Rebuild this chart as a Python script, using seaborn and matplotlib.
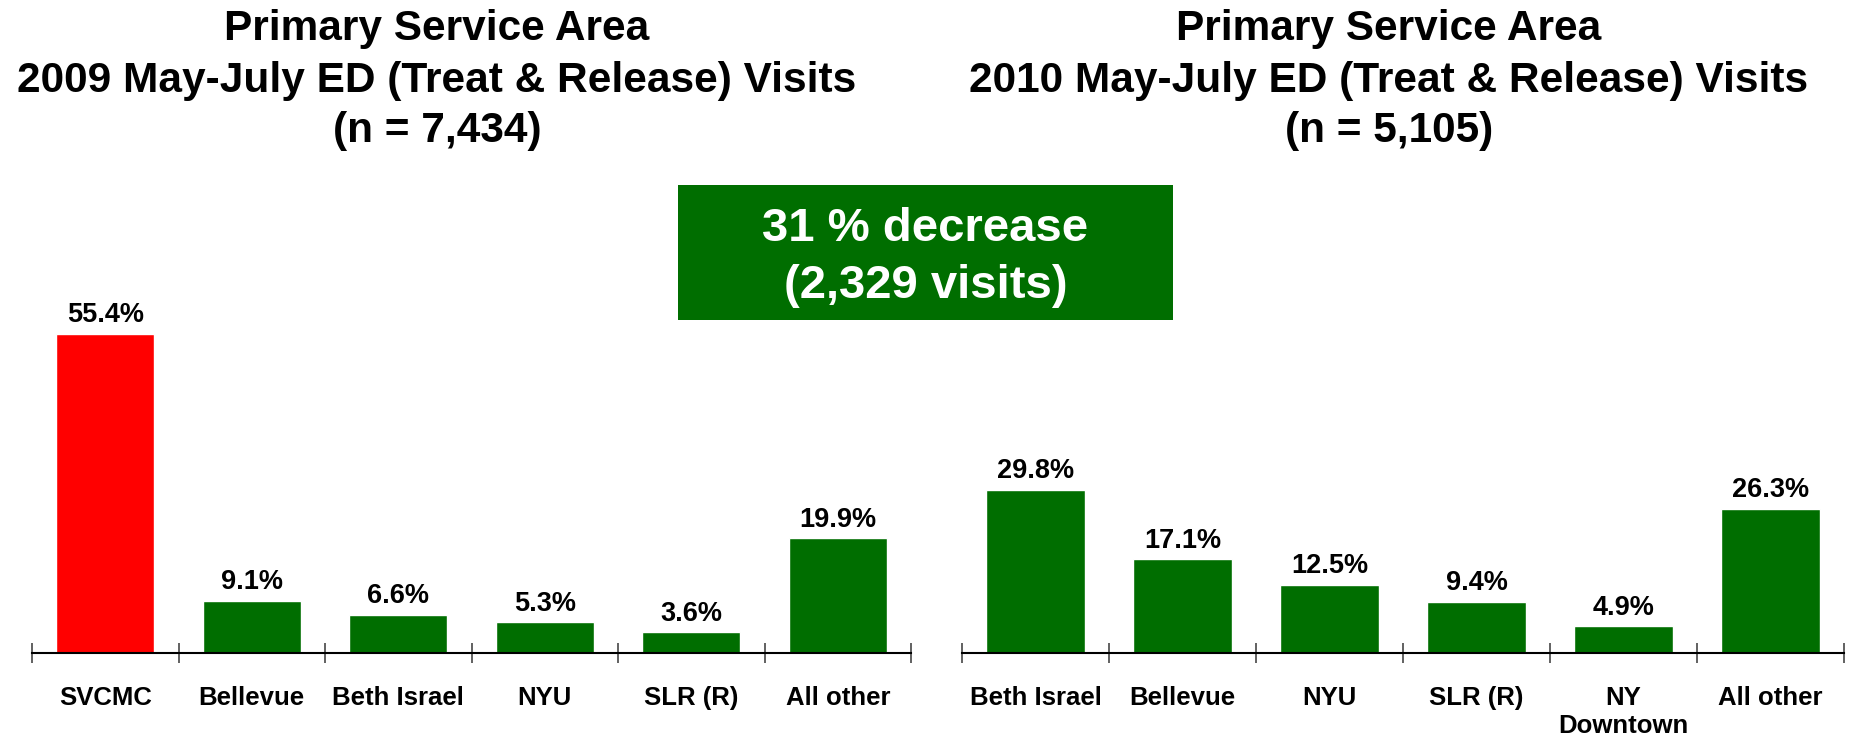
import matplotlib
matplotlib.use("Agg")
import matplotlib.pyplot as plt
import seaborn as sns
import pandas as pd
from matplotlib.patches import Rectangle
from matplotlib.ticker import FixedLocator

# ---------------- data ----------------
cats_2009 = ["SVCMC", "Bellevue", "Beth Israel", "NYU", "SLR (R)", "All other"]
vals_2009 = [55.4, 9.1, 6.6, 5.3, 3.6, 19.9]
cats_2010 = ["Beth Israel", "Bellevue", "NYU", "SLR (R)", "NY\nDowntown", "All other"]
vals_2010 = [29.8, 17.1, 12.5, 9.4, 4.9, 26.3]

title_2009 = ["Primary Service Area",
              "2009 May-July ED (Treat & Release) Visits",
              "(n = 7,434)"]
title_2010 = ["Primary Service Area",
              "2010 May-July ED (Treat & Release) Visits",
              "(n = 5,105)"]
box_lines = ["31 % decrease", "(2,329 visits)"]

GREEN = "#006E00"
RED = "#FF0000"
colors_2009 = [RED] + [GREEN] * 5
colors_2010 = [GREEN] * 6

sns.set_style("white")
plt.rcParams["font.family"] = ["Liberation Sans", "DejaVu Sans"]
plt.rcParams["font.weight"] = "bold"

W, H = 1852, 737
fig = plt.figure(figsize=(W / 100, H / 100), dpi=100)


def fx(px):
    return px / W


def fy(py):
    return 1 - py / H


def draw_panel(rect, cats, vals, colors, ymax):
    ax = fig.add_axes(rect)
    df = pd.DataFrame({"cat": cats, "val": vals})
    sns.barplot(data=df, x="cat", y="val", hue="cat", palette=colors,
                order=cats, hue_order=cats, legend=False, width=0.67,
                saturation=1, ax=ax)
    ax.set_xlim(-0.5, len(cats) - 0.5)
    ax.set_ylim(0, ymax)
    for s in ["top", "right", "left"]:
        ax.spines[s].set_visible(False)
    ax.spines["bottom"].set_color("black")
    ax.spines["bottom"].set_linewidth(1.5)
    ax.set_yticks([])
    ax.set_xlabel("")
    ax.set_ylabel("")
    ax.set_xticks(range(len(cats)))
    ax.set_xticklabels(cats, fontsize=18.5, fontweight="bold", color="black")
    for t in ax.get_xticklabels():
        t.set_linespacing(1.17)
    ax.tick_params(axis="x", which="major", length=0, pad=24, bottom=True)
    ax.xaxis.set_minor_locator(FixedLocator([i - 0.5 for i in range(len(cats) + 1)]))
    ax.tick_params(axis="x", which="minor", length=15, width=1.3, bottom=True,
                   direction="inout", color="#555555")
    for cont in ax.containers:
        ax.bar_label(cont, labels=[f"{v.get_height():.1f}%" for v in cont],
                     padding=4, fontsize=19.5, fontweight="bold", color="black")
    return ax


ax_bottom = fy(653)
ax_h = (653 - 250) / H
draw_panel([fx(32), ax_bottom, fx(911 - 32), ax_h], cats_2009, vals_2009, colors_2009, 69.9)
draw_panel([fx(962), ax_bottom, fx(1844 - 962), ax_h], cats_2010, vals_2010, colors_2010, 73.6)

# titles
for cx, lines in [(437, title_2009), (1389, title_2010)]:
    for line, base in zip(lines, [40, 92, 142]):
        fig.text(fx(cx), fy(base), line, ha="center", va="baseline",
                 fontsize=30.5, fontweight="bold", color="black")

# green box
fig.patches.append(Rectangle((fx(678), fy(320)), fx(1173 - 678), (320 - 185) / H,
                             transform=fig.transFigure, facecolor=GREEN,
                             edgecolor="none", zorder=5))
for line, base in zip(box_lines, [241, 298]):
    fig.text(fx(925.5), fy(base), line, ha="center", va="baseline",
             fontsize=34, fontweight="bold", color="white", zorder=6)

fig.savefig("out.png", dpi=100)
